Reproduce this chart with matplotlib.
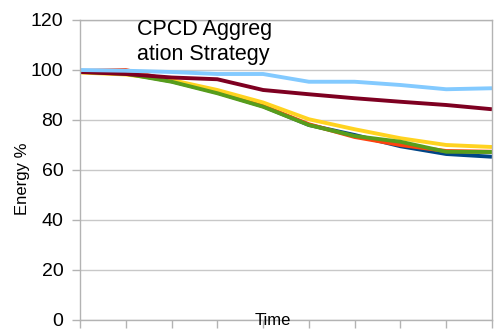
import matplotlib
matplotlib.use("Agg")
import matplotlib.pyplot as plt

plt.rcParams['font.family'] = ['Liberation Sans', 'DejaVu Sans']

time_points = list(range(10))
series_blue = [99.5, 98.7, 95.5, 91.0, 85.5, 78.0, 74.0, 69.5, 66.4, 65.3]
series_orange = [99.6, 100.0, 95.8, 91.0, 85.6, 78.3, 73.2, 70.0, 67.6, 67.3]
series_yellow = [99.0, 98.2, 96.0, 92.0, 87.0, 80.3, 76.3, 72.7, 70.0, 69.2]
series_green = [99.3, 98.5, 95.3, 90.7, 85.3, 78.0, 73.6, 71.3, 67.3, 67.2]
series_maroon = [99.2, 98.4, 97.0, 96.3, 92.0, 90.3, 88.7, 87.3, 86.0, 84.3]
series_lightblue = [100.0, 99.7, 99.2, 98.4, 98.4, 95.3, 95.3, 94.0, 92.3, 92.7]

series = [series_blue, series_orange, series_yellow, series_green,
          series_maroon, series_lightblue]
colors = ['#004586', '#ff420e', '#ffd320', '#579d1c', '#7e0021', '#83caff']

y_ticks = [0, 20, 40, 60, 80, 100, 120]

W, H = 502, 333
fig = plt.figure(figsize=(W / 100, H / 100), dpi=100)
ax = fig.add_axes([80 / W, 13 / H, 412 / W, 300 / H])

for vals, c in zip(series, colors):
    ax.plot(time_points, vals, color=c, linewidth=2.8,
            solid_joinstyle='miter', solid_capstyle='butt')

ax.set_xlim(0, 9)
ax.set_ylim(0, 120)
ax.set_yticks(y_ticks)
ax.set_xticks(time_points)
ax.set_xticklabels([])
ax.yaxis.grid(True, color='#c8c8c8', linewidth=1.0)
ax.set_axisbelow(True)
for s in ax.spines.values():
    s.set_color('#b3b3b3')
    s.set_linewidth(1.0)
ax.tick_params(axis='both', colors='#b3b3b3', length=6, width=1.0,
               labelcolor='black', labelsize=14, pad=6)

fig.text(23 / W, 1 - 179 / H, 'Energy %', rotation=90, ha='center',
         va='center', fontsize=12)
fig.text(273 / W, 1 - 325 / H, 'Time', ha='center', va='baseline',
         fontsize=12)
fig.text(137 / W, 1 - 35 / H, 'CPCD Aggreg', ha='left', va='baseline',
         fontsize=15.5)
fig.text(137 / W, 1 - 60 / H, 'ation Strategy', ha='left', va='baseline',
         fontsize=15.5)

fig.savefig('out.png', dpi=100)
